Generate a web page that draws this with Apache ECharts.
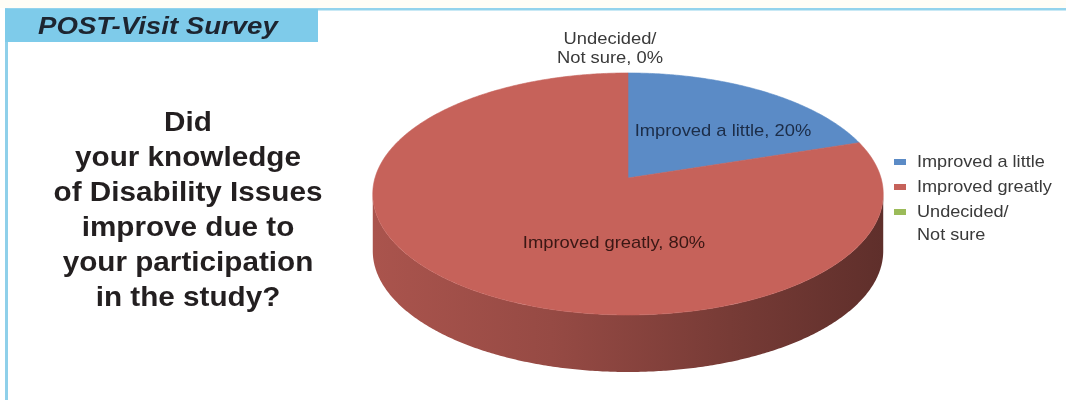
<!DOCTYPE html>
<html>
<head>
<meta charset="utf-8">
<script src="https://cdn.jsdelivr.net/npm/echarts@6/dist/echarts.min.js"></script>
<style>
  html, body { margin: 0; padding: 0; background: #ffffff; }
  #chart { width: 1066px; height: 400px; }
</style>
</head>
<body>
<div id="chart"></div>
<script>
// Survey answers and their shares
const categories = ['Improved a little', 'Improved greatly', 'Undecided/\nNot sure'];
const values = [20, 80, 0];
const colors = ['#5b8bc6', '#c6625a', '#9bbb59'];
const labelColors = ['#1c2d48', '#3a1714', '#3a3a3a'];

const titleText = 'POST-Visit Survey';
const questionLines = ['Did', 'your knowledge', 'of Disability Issues', 'improve due to', 'your participation', 'in the study?'];

const FONT = '"Liberation Sans", Arial, sans-serif';

// Geometry of the tilted pie (a disc seen in perspective)
const PIE = { cx: 628, cy: 178, rx: 253, ry: 118.9, persp: 0.132, depth: 57 };

// Where each slice label sits on screen
const labelAnchors = [[723, 131], [614, 243], [610, 49]];

const total = values.reduce((a, b) => a + b, 0);
const cumulative = values.map((v, i) => values.slice(0, i).reduce((a, b) => a + b, 0));

function project(deg, r) {
  const t = deg * Math.PI / 180;
  const X = r * Math.cos(t), Z = r * Math.sin(t);
  const w = 1 + PIE.persp * Z;
  return [PIE.cx + PIE.rx * X / w, PIE.cy - PIE.ry * Z / w];
}

function arcPoints(a0, a1, r) {
  const n = Math.max(2, Math.ceil(Math.abs(a1 - a0) / 0.5));
  const pts = [];
  for (let k = 0; k <= n; k++) pts.push(project(a0 + (a1 - a0) * k / n, r));
  return pts;
}

// The side wall is visible between the two silhouette angles at the front
const edgeDeg = Math.asin(PIE.persp) * 180 / Math.PI;
const FRONT = [-180 + edgeDeg, -edgeDeg];

function shade(hex, f) {
  const n = parseInt(hex.slice(1), 16);
  const ch = [(n >> 16) & 255, (n >> 8) & 255, n & 255].map(c => Math.round(c * f));
  return 'rgb(' + ch.join(',') + ')';
}

function sideFill(color) {
  const left = project(FRONT[0], 1)[0], right = project(FRONT[1], 1)[0];
  return {
    type: 'linear', x: left, y: 0, x2: right, y2: 0, global: true,
    colorStops: [
      { offset: 0, color: shade(color, 0.86) },
      { offset: 0.35, color: shade(color, 0.76) },
      { offset: 0.7, color: shade(color, 0.6) },
      { offset: 1, color: shade(color, 0.48) }
    ]
  };
}

function renderSlice(params, api) {
  const i = params.dataIndex;
  const v = api.value(0);
  const start = 90 - 360 * cumulative[i] / total;
  const end = 90 - 360 * (cumulative[i] + v) / total;
  const children = [];

  if (v > 0) {
    // side wall pieces on the front half
    for (let k = -1; k <= 1; k++) {
      const lo = FRONT[0] + 360 * k, hi = FRONT[1] + 360 * k;
      const a = Math.max(end, lo), b = Math.min(start, hi);
      if (a < b) {
        const top = arcPoints(b, a, 1);
        const bottom = top.map(p => [p[0], p[1] + PIE.depth]).reverse();
        children.push({
          type: 'polygon',
          shape: { points: top.concat(bottom) },
          style: { fill: sideFill(colors[i]), stroke: null },
          z2: 1
        });
      }
    }
    // top face
    children.push({
      type: 'polygon',
      shape: { points: [[PIE.cx, PIE.cy]].concat(arcPoints(start, end, 1)) },
      style: { fill: colors[i], stroke: colors[i], lineWidth: 0.6 },
      z2: 5
    });
  }

  const pct = Math.round(v / total * 100);
  children.push({
    type: 'text',
    x: labelAnchors[i][0],
    y: labelAnchors[i][1],
    scaleX: 1.08,
    z2: 100,
    style: {
      text: categories[i] + ', ' + pct + '%',
      fill: labelColors[i],
      font: '17px ' + FONT,
      align: 'center',
      verticalAlign: 'middle',
      lineHeight: 19
    }
  });

  return { type: 'group', children: children };
}

// Legend built from the same categories and colours
const legendItems = [];
const legendTop = 162, legendStep = 25;
categories.forEach((name, i) => {
  const y = legendTop + i * legendStep;
  legendItems.push({
    type: 'rect', shape: { x: 894, y: y - 3, width: 12, height: 6 },
    style: { fill: colors[i] }
  });
  legendItems.push({
    type: 'text', x: 917, y: y - 11.5, scaleX: 1.065,
    style: { text: name, fill: '#3a3a3a', font: '17px ' + FONT, verticalAlign: 'top', lineHeight: 23 }
  });
});

const chart = echarts.init(document.getElementById('chart'));
chart.setOption({
  backgroundColor: '#ffffff',
  animation: false,
  graphic: [
    // frame
    { type: 'rect', shape: { x: 0, y: 0, width: 1066, height: 8 }, style: { fill: '#fffdf6' }, silent: true },
    { type: 'rect', shape: { x: 5, y: 8, width: 1061, height: 2.5 }, style: { fill: '#93d3ec' }, silent: true },
    { type: 'rect', shape: { x: 5, y: 8, width: 3, height: 392 }, style: { fill: '#8fd0ea' }, silent: true },
    { type: 'rect', shape: { x: 5, y: 9, width: 313, height: 33 }, style: { fill: '#7ecbea' }, silent: true },
    {
      type: 'text', x: 38, y: 28, scaleX: 1.2,
      style: { text: titleText, fill: '#1d2530', font: 'italic bold 23px ' + FONT, verticalAlign: 'middle' }
    },
    {
      type: 'text', x: 188, y: 106, scaleX: 1.06,
      style: {
        text: questionLines.join('\n'), fill: '#231f20', font: 'bold 28px ' + FONT,
        align: 'center', verticalAlign: 'top', lineHeight: 35
      }
    }
  ].concat(legendItems),
  series: [{
    type: 'custom',
    coordinateSystem: 'none',
    renderItem: renderSlice,
    data: values.map((v, i) => ({ name: categories[i], value: v }))
  }]
});
</script>
</body>
</html>
